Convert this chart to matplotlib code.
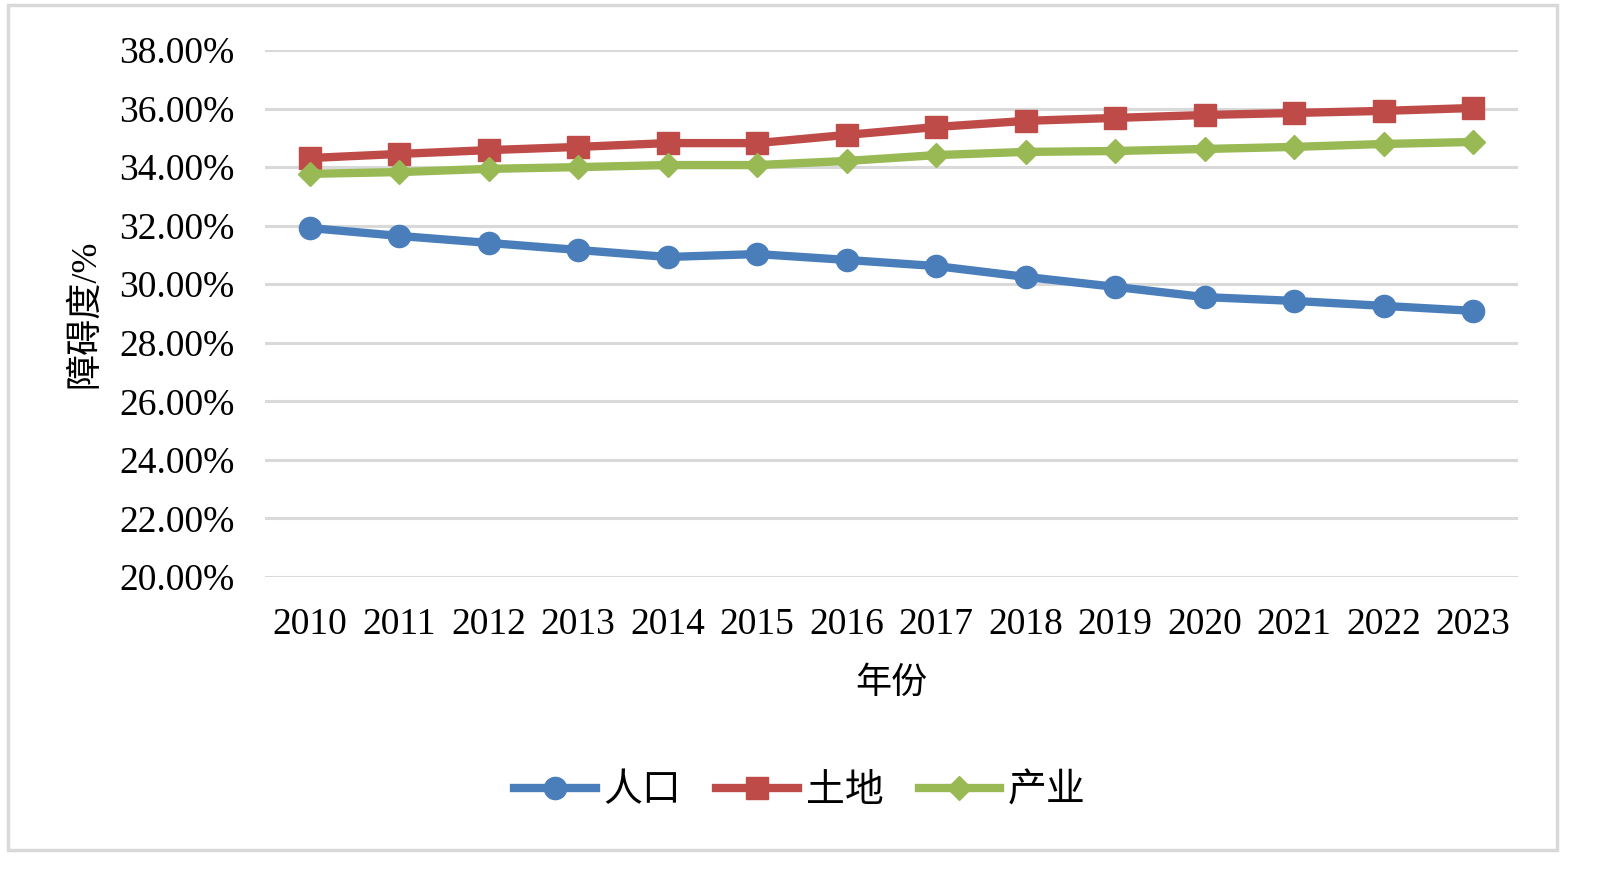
import numpy as np
import matplotlib.pyplot as plt
from matplotlib.patches import Rectangle

plt.rcParams['font.family'] = ['Liberation Serif', 'Noto Sans CJK SC', 'DejaVu Sans']

years = ['2010', '2011', '2012', '2013', '2014', '2015', '2016',
         '2017', '2018', '2019', '2020', '2021', '2022', '2023']
renkou = [31.92, 31.65, 31.41, 31.17, 30.93, 31.03, 30.83,
          30.62, 30.25, 29.91, 29.56, 29.43, 29.26, 29.09]
tudi = [34.31, 34.45, 34.58, 34.69, 34.82, 34.82, 35.10,
        35.37, 35.58, 35.68, 35.78, 35.85, 35.92, 36.02]
chanye = [33.77, 33.83, 33.94, 34.00, 34.07, 34.07, 34.21,
          34.41, 34.52, 34.55, 34.62, 34.69, 34.79, 34.86]
series_names = ['人口', '土地', '产业']
yticks = np.arange(20, 38.1, 2)

W, H = 1600, 873
fig = plt.figure(figsize=(W / 100, H / 100), dpi=100)
ax = fig.add_axes([265 / W, 1 - 577 / H, (1518 - 265) / W, (577 - 50) / H])

x = np.arange(len(years))
ax.plot(x, renkou, color='#4a7ebb', lw=6, marker='o', ms=16, label=series_names[0], zorder=3)
ax.plot(x, tudi, color='#be4b48', lw=6, marker='s', ms=16, label=series_names[1], zorder=3)
ax.plot(x, chanye, color='#98b954', lw=6, marker='D', ms=12, label=series_names[2], zorder=3)

ax.set_xlim(-0.5, len(years) - 0.5)
ax.set_ylim(20, 38)
ax.set_yticks(yticks)
ax.set_yticklabels([f'{v:.2f}%' for v in yticks])
ax.set_xticks(x)
ax.set_xticklabels(years)
ax.tick_params(length=0, labelsize=27)
ax.tick_params(axis='y', pad=22)
ax.tick_params(axis='x', pad=22)
ax.grid(axis='y', color='#d9d9d9', lw=2.2)
ax.set_axisbelow(True)
for s in ax.spines.values():
    s.set_visible(False)

ax.set_xlabel('年份', fontsize=26, labelpad=18)
ax.set_ylabel('障碍度/%', fontsize=26)
ax.yaxis.set_label_coords(-0.13, 0.5)

fig.legend(loc='center', bbox_to_anchor=(800 / W, 1 - 792 / H), ncol=3, frameon=False,
           fontsize=28, handlelength=2.1, columnspacing=0.9, handletextpad=0.2)

fig.patches.append(Rectangle((8 / W, 1 - 850 / H), (1557 - 8) / W, (850 - 5) / H,
                             transform=fig.transFigure, fill=False, ec='#d9d9d9', lw=2.5))

fig.savefig('out.png', dpi=100, facecolor='white')
